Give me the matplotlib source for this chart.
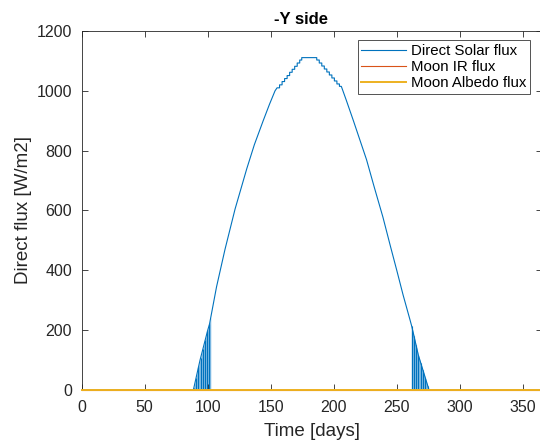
import numpy as np
import matplotlib
matplotlib.use("Agg")
import matplotlib.pyplot as plt

plt.rcParams['font.family'] = ['Liberation Sans', 'DejaVu Sans']

# direct solar flux on the -Y face, smooth parts of the envelope [days, W/m2]
rise_days = [88.6, 93.9, 100.0, 101.4, 107.0, 113.7, 121.7, 131.0, 137.0, 144.0, 149.0, 153.4]
rise_flux = [0, 100, 200, 220, 345, 470, 605, 740, 820, 900, 955, 1000]

# stepped section around the maximum (level holds from each day to the next)
top_days = [155, 157, 159, 161, 163, 165, 167, 169, 171, 173, 174.6,
            186.5, 188.5, 190.5, 192.5, 194.5, 196.5, 198.5, 200.5, 202.5, 204.5, 206]
top_flux = [1010, 1020, 1031, 1041, 1051, 1062, 1072, 1082, 1093, 1103, 1111,
            1103, 1093, 1083, 1073, 1063, 1053, 1043, 1033, 1023, 1015, 1015]

fall_days = [206.0, 210.0, 215.6, 220.0, 226.0, 232.0, 239.0, 245.0, 250.0, 255.0, 260.6, 262.0, 267.1, 275.6]
fall_flux = [1015, 968, 900, 845, 770, 680, 578, 480, 400, 318, 233, 211, 117, 0]

# eclipse passes where the flux drops to zero every orbit
eclipse_left = [89.0, 90.8, 92.6, 94.4, 96.2, 98.0, 99.8, 101.4]
eclipse_right = [261.9, 263.7, 265.3, 267.1, 269.0, 270.8, 272.6, 274.6]

# lunar contributions stay at ~0 for this face
moon_days = [0, 365]
moon_ir = [0, 0]
moon_albedo = [0, 0]

# assemble the full solar flux trace
step_x = np.repeat(top_days, 2)[1:]
step_y = np.repeat(top_flux, 2)[:-1]
sun_x = np.concatenate([[0], rise_days, step_x, fall_days, [365]])
sun_y = np.concatenate([[0], rise_flux, step_y, fall_flux, [0]])

c_sun = '#0072BD'
c_ir = '#D95319'
c_alb = '#EDB120'

fig = plt.figure(figsize=(5.40, 4.45), dpi=100)
ax = fig.add_axes([81.7 / 540, 55 / 445, 460 / 540, 359 / 445])

# eclipse bands: shaded envelope plus the individual drop-outs
for days in (eclipse_left, eclipse_right):
    xs = np.linspace(days[0] - 0.4, days[-1] + 1.0, 60)
    ax.fill_between(xs, 0, np.interp(xs, sun_x, sun_y), color='#6aaee0', lw=0, alpha=0.85)
    ax.vlines(days, 0, np.interp(days, sun_x, sun_y), color=c_sun, lw=0.8)

ax.plot(sun_x, sun_y, color=c_sun, lw=0.8, label='Direct Solar flux')
ax.plot(moon_days, moon_ir, color=c_ir, lw=0.8, label='Moon IR flux', clip_on=False, zorder=4)
ax.plot(moon_days, moon_albedo, color=c_alb, lw=1.4, label='Moon Albedo flux', clip_on=False, zorder=5)

ax.set_xlim(0, 365)
ax.set_ylim(0, 1200)
ax.set_xticks(np.arange(0, 351, 50))
ax.set_yticks(np.arange(0, 1201, 200))
ax.tick_params(direction='in', top=True, right=True, length=4, width=0.6,
               colors='#262626', labelsize=11.5, pad=7)
for sp in ax.spines.values():
    sp.set_color('#262626')
    sp.set_linewidth(0.6)

ax.set_xlabel('Time [days]', fontsize=13.5, color='#262626', labelpad=6)
ax.set_ylabel('Direct flux [W/m2]', fontsize=13.5, color='#262626', labelpad=3)
ax.set_title('-Y side', fontsize=12, fontweight='bold', color='black', pad=5,
             x=(301.5 - 81.7) / 460)

leg = ax.legend(loc='upper right', bbox_to_anchor=(530 / 540, 1 - 40 / 445),
                bbox_transform=fig.transFigure, fontsize=10.8, frameon=True,
                fancybox=False, handlelength=3.0, handletextpad=0.3,
                borderpad=0.25, labelspacing=0.15, borderaxespad=0)
leg.get_frame().set_edgecolor('#262626')
leg.get_frame().set_linewidth(0.7)

fig.savefig('out.png', dpi=100)
